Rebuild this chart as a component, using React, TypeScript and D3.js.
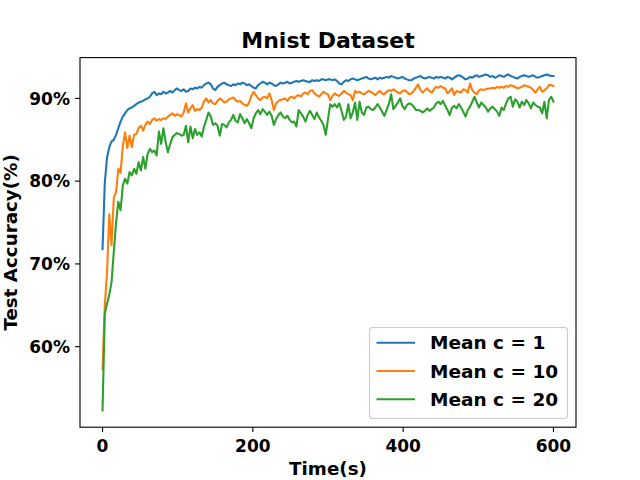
import React from 'react';
import * as d3 from 'd3';

const STEP = 3;

const meanC1 = [
  71.8, 79.8, 82.9, 84.1, 84.8, 85.0, 85.6, 86.4, 87.2, 87.8,
  88.2, 88.6, 88.8, 88.9, 89.1, 89.3, 89.5, 89.6, 89.7, 89.9,
  90.0, 90.2, 90.6, 90.8, 90.4, 90.6, 90.5, 90.8, 90.6, 90.7,
  90.9, 90.7, 91.0, 91.2, 91.0, 90.9, 91.1, 90.8, 90.9, 91.2,
  91.1, 91.3, 91.2, 91.4, 91.3, 91.6, 91.8, 91.9, 91.7, 91.2,
  91.0, 91.4, 91.6, 91.8, 91.9, 91.7, 91.6, 91.5, 91.7, 91.6,
  91.8, 91.7, 91.9, 91.8, 91.6, 91.7, 91.5, 91.3, 91.2, 91.6,
  91.8, 92.0, 91.9, 91.7, 91.9, 91.8, 91.6, 91.5, 91.7, 91.9,
  91.8, 91.9, 92.0, 91.8, 91.9, 92.0, 92.1, 92.0, 92.1, 92.2,
  92.1, 92.0, 92.0, 92.2, 92.1, 92.2, 92.1, 92.3, 92.3, 92.2,
  92.3, 92.3, 92.2, 92.3, 92.1, 91.8, 91.7, 92.0, 92.2, 92.1,
  92.3, 92.4, 92.3, 92.2, 92.3, 92.4, 92.5, 92.6, 92.4, 92.3,
  92.4, 92.5, 92.3, 92.5, 92.4, 92.5, 92.6, 92.5, 92.7, 92.6,
  92.5, 92.4, 92.5, 92.6, 92.4, 92.3, 92.2, 92.2, 92.4, 92.5,
  92.6, 92.7, 92.5, 92.4, 92.5, 92.6, 92.5, 92.4, 92.6, 92.5,
  92.6, 92.5, 92.4, 92.6, 92.5, 92.3, 92.5, 92.7, 92.8, 92.7,
  92.5, 92.3, 92.4, 92.6, 92.5, 92.7, 92.8, 92.6, 92.7, 92.8,
  92.9, 92.8, 92.6, 92.7, 92.5, 92.6, 92.8, 92.7, 92.6, 92.8,
  92.9, 92.7, 92.6, 92.5, 92.4, 92.6, 92.7, 92.8, 92.7, 92.6,
  92.7, 92.8, 92.6, 92.5, 92.6, 92.7, 92.8, 92.9, 92.8, 92.7,
  92.7,
];

const meanC10 = [
  57.3, 65.0, 69.0, 76.0, 72.3, 78.0, 78.7, 81.5, 81.0, 84.3,
  85.9, 84.0, 85.5, 84.1, 85.6, 85.7, 86.4, 86.7, 86.1, 86.8,
  87.2, 86.9, 87.4, 87.6, 87.3, 87.5, 87.4, 87.6, 87.5, 87.8,
  88.0, 88.2, 87.9, 88.1, 88.0, 87.8, 88.3, 89.4, 88.3, 88.8,
  89.2, 88.5, 88.7, 88.6, 88.9, 89.6, 90.0, 89.5, 89.8, 89.4,
  89.3, 89.7, 90.0, 89.8, 89.5, 89.6, 89.9, 90.0, 90.1, 89.8,
  89.6, 89.7, 89.4, 89.2, 89.1, 89.5, 90.3, 90.8, 90.4, 90.0,
  89.8, 90.1, 90.2, 90.0, 90.6, 89.8, 88.6, 89.4, 89.7, 89.8,
  89.9, 90.0, 89.7, 90.1, 90.2, 90.0, 90.3, 90.4, 90.2, 90.6,
  90.7, 90.5, 90.9, 91.0, 90.6, 90.4, 90.2, 90.5, 90.8, 90.6,
  90.5, 89.8, 90.3, 90.6, 90.4, 90.3, 90.6, 90.9, 90.7, 90.5,
  90.4, 89.8, 90.9, 90.7, 90.8, 90.6, 90.5, 90.7, 90.9, 90.8,
  90.6, 90.4, 90.7, 90.9, 90.6, 90.5, 90.8, 91.0, 90.9, 91.1,
  90.9, 90.7, 90.6, 90.9, 91.0, 90.8, 90.5, 90.6, 90.9, 91.3,
  91.7, 91.0, 90.7, 91.0, 91.2, 90.9, 90.7, 91.1, 91.4, 91.3,
  91.5, 91.3, 91.2, 90.6, 90.9, 91.2, 90.4, 90.9, 90.8, 90.7,
  91.1, 91.0, 90.7, 91.8, 91.0, 90.7, 90.5, 91.0, 91.1, 91.0,
  91.1, 91.2, 91.2, 91.3, 91.2, 91.4, 91.3, 91.4, 91.3, 91.5,
  91.4, 91.6, 91.5, 91.4, 91.2, 91.3, 91.4, 91.6, 91.5, 91.4,
  91.3, 91.0, 90.7, 91.1, 91.4, 90.8, 91.0, 91.2, 91.6, 91.6,
  91.5,
];

const meanC20 = [
  52.3, 64.0, 65.2, 66.3, 67.8, 71.5, 75.0, 77.5, 76.5, 79.5,
  80.3, 79.7, 81.1, 80.7, 81.5, 80.9, 82.3, 81.3, 82.9, 81.5,
  83.3, 83.9, 83.5, 83.7, 83.1, 86.0, 84.5, 86.4, 84.7, 83.5,
  84.5, 85.3, 85.6, 85.8, 85.7, 85.5, 85.6, 86.7, 84.7, 86.6,
  85.2, 86.3, 85.6, 85.9, 85.4, 86.6, 87.4, 88.3, 87.8, 86.8,
  87.0, 86.7, 85.5, 86.9, 86.8, 86.5, 87.1, 87.4, 88.0, 87.3,
  87.1, 88.1, 87.6, 87.0, 87.5, 87.0, 86.4, 87.6, 88.2, 88.6,
  88.1, 88.7, 88.4, 88.0, 88.4, 87.9, 86.8, 87.5, 88.0, 88.3,
  87.8, 87.6, 87.9, 87.4, 87.1, 87.2, 86.6, 88.6, 88.2, 87.8,
  87.2, 88.0, 88.5, 88.0, 87.5, 88.3, 87.7, 87.3, 86.8, 85.6,
  87.5, 89.3, 89.0, 89.3, 88.9, 89.4, 88.5, 87.4, 87.8, 89.3,
  87.6, 88.3, 89.5, 87.4, 89.6, 88.3, 88.0, 88.9, 89.0, 88.7,
  88.6, 88.9, 89.3, 88.9, 88.4, 87.9, 88.6, 89.3, 90.5, 88.7,
  89.1, 89.5, 90.0, 89.1, 88.7, 89.2, 89.4, 89.3, 89.0, 88.6,
  88.6, 88.5, 88.3, 88.5, 88.8, 88.5, 88.7, 88.9, 89.4, 89.6,
  89.3, 89.7, 89.1, 88.6, 88.0, 88.9, 89.1, 88.8, 89.3, 88.9,
  88.4, 87.8, 88.6, 89.0, 89.6, 90.2, 89.5, 88.9, 89.5, 89.2,
  88.9, 88.4, 88.8, 89.0, 88.7, 88.4, 87.9, 88.9, 88.6, 89.4,
  90.0, 90.2, 89.0, 89.9, 89.6, 88.9, 89.6, 89.2, 89.8, 89.4,
  88.8, 89.5, 89.2, 89.0, 88.9, 88.2, 89.6, 87.6, 89.8, 90.2,
  89.6,
];

const seriesLabels = ['Mean c = 1', 'Mean c = 10', 'Mean c = 20'];
const seriesColors = ['#1f77b4', '#ff7f0e', '#2ca02c'];
const xTicks = [0, 200, 400, 600];
const yTicks = [60, 70, 80, 90];

const W = 640;
const H = 480;
const margin = { left: 80, right: 576, top: 57.6, bottom: 427.2 };
const FONT = '"DejaVu Sans", sans-serif';

export default function App() {
  const allSeries = [meanC1, meanC10, meanC20];
  const times = meanC1.map((_, i) => i * STEP);

  // matplotlib-like 5% padding
  const [tMin, tMax] = d3.extent(times) as [number, number];
  const tPad = (tMax - tMin) * 0.05;
  const allVals = allSeries.flat();
  const [vMin, vMax] = d3.extent(allVals) as [number, number];
  const vPad = (vMax - vMin) * 0.05;

  const x = d3.scaleLinear().domain([tMin - tPad, tMax + tPad]).range([margin.left, margin.right]);
  const y = d3.scaleLinear().domain([vMin - vPad, vMax + vPad]).range([margin.bottom, margin.top]);

  const line = d3.line<number>()
    .x((_, i) => x(times[i]))
    .y(d => y(d));

  const legend = { x: 369.5, y: 327.5, w: 198, h: 91, rowY: [342.7, 371, 399.3] };

  return (
    <svg width={W} height={H} style={{ position: 'absolute', left: 0, top: 0, background: '#fff' }}
      fontFamily={FONT} fontWeight="bold">
      <rect x={0} y={0} width={W} height={H} fill="#fff" />

      {/* data lines */}
      <g clipPath="url(#plotClip)">
        {allSeries.map((s, i) => (
          <path key={i} d={line(s) || ''} fill="none" stroke={seriesColors[i]}
            strokeWidth={2.1} strokeLinejoin="round" strokeLinecap="square" />
        ))}
      </g>
      <defs>
        <clipPath id="plotClip">
          <rect x={margin.left} y={margin.top} width={margin.right - margin.left} height={margin.bottom - margin.top} />
        </clipPath>
      </defs>

      {/* frame */}
      <rect x={margin.left} y={margin.top} width={margin.right - margin.left} height={margin.bottom - margin.top}
        fill="none" stroke="#000" strokeWidth={1.1} />

      {/* x ticks */}
      {xTicks.map(t => (
        <g key={t} transform={`translate(${x(t)},0)`}>
          <line y1={margin.bottom} y2={margin.bottom + 4.9} stroke="#000" strokeWidth={1.1} />
          <text y={451.7} textAnchor="middle" fontSize={17}>{t}</text>
        </g>
      ))}

      {/* y ticks */}
      {yTicks.map(t => (
        <g key={t} transform={`translate(0,${y(t)})`}>
          <line x1={margin.left - 4.9} x2={margin.left} stroke="#000" strokeWidth={1.1} />
          <text x={70} dy="0.36em" textAnchor="end" fontSize={17}>{t}%</text>
        </g>
      ))}

      {/* labels */}
      <text x={(margin.left + margin.right) / 2} y={475} textAnchor="middle" fontSize={18.3}>Time(s)</text>
      <text transform={`translate(17,${(margin.top + margin.bottom) / 2}) rotate(-90)`} textAnchor="middle" fontSize={18.3}>
        Test Accuracy(%)
      </text>
      <text x={(margin.left + margin.right) / 2} y={47.7} textAnchor="middle" fontSize={22}>Mnist Dataset</text>

      {/* legend */}
      <rect x={legend.x} y={legend.y} width={legend.w} height={legend.h} rx={3}
        fill="#fff" fillOpacity={0.8} stroke="#cccccc" strokeWidth={1.1} />
      {seriesLabels.map((lab, i) => (
        <g key={lab}>
          <line x1={376.5} x2={415} y1={legend.rowY[i]} y2={legend.rowY[i]} stroke={seriesColors[i]} strokeWidth={2.1} />
          <text x={430} y={legend.rowY[i]} dy="0.36em" fontSize={18.5}>{lab}</text>
        </g>
      ))}
    </svg>
  );
}
